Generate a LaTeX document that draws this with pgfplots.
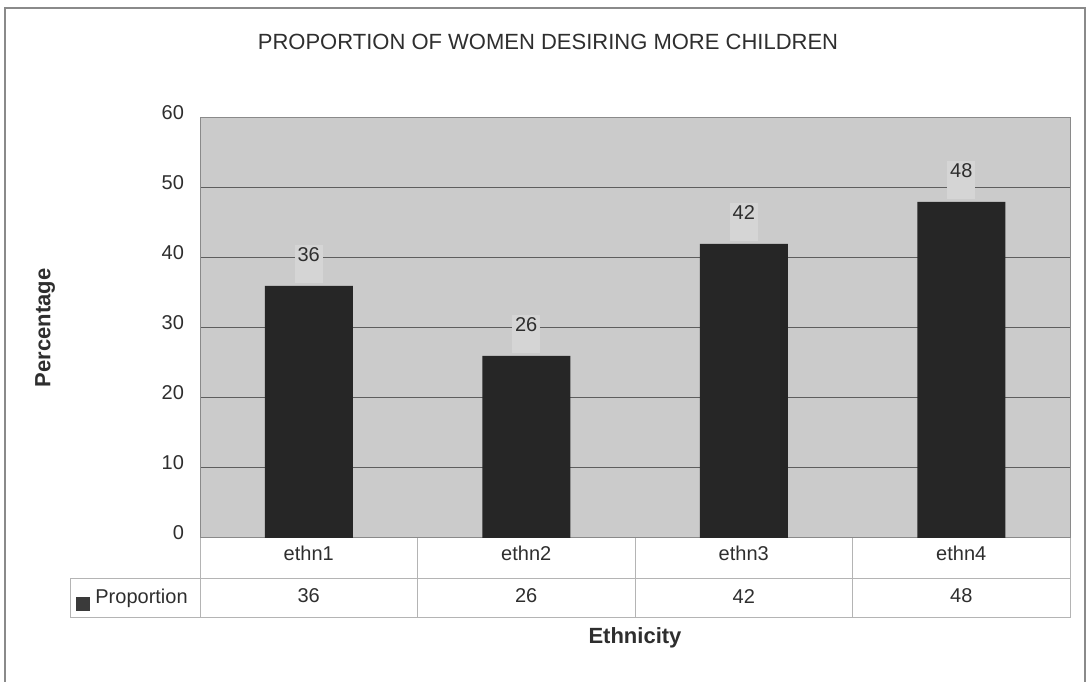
\documentclass[border=0pt]{standalone}
\usepackage{fontspec}
\setmainfont{Liberation Sans}
\usepackage{pgfplots}
\pgfplotsset{compat=1.18}
\definecolor{plotbg}{HTML}{CBCBCB}
\definecolor{barcol}{HTML}{262626}
\definecolor{gridcol}{HTML}{5E5E5E}
\definecolor{txt}{HTML}{2E2E2E}
\definecolor{tableline}{HTML}{B4B4B4}
\definecolor{labelbg}{HTML}{D5D5D5}
\definecolor{framecol}{HTML}{8A8A8A}
\definecolor{keycol}{HTML}{3A3A3A}
\begin{document}
\begin{tikzpicture}
\path (0,0) rectangle (543.5pt,341pt);
\begin{axis}[
  at={(100pt,72pt)}, anchor=south west,
  scale only axis, width=435pt, height=210pt,
  xmin=-0.5, xmax=3.5, ymin=0, ymax=60,
  xtick={0,1,2,3}, xticklabels={ethn1,ethn2,ethn3,ethn4},
  major tick length=0pt,
  ytick={0,10,...,60},
  ymajorgrids, grid style={gridcol, line width=0.5pt},
  axis line style={framecol, line width=0.5pt},
  axis background/.style={fill=plotbg},
  clip=false,
  /pgf/number format/assume math mode=true,
  tick label style={font=\fontsize{10}{12}\selectfont, text=txt},
  yticklabel style={anchor=east, xshift=-4.5pt, yshift=2.5pt},
  xticklabel style={anchor=center, yshift=-7.5pt},
  title={PROPORTION OF WOMEN DESIRING MORE CHILDREN},
  title style={at={(axis description cs:0.4,1.152)}, anchor=center, font=\fontsize{11}{13}\selectfont, text=txt},
  xlabel={Ethnicity},
  xlabel style={at={(axis description cs:0.5,-0.238)}, anchor=center, font=\fontsize{11}{13}\selectfont\bfseries, text=txt},
  ylabel={Percentage},
  ylabel style={at={(axis description cs:-0.178,0.5)}, anchor=center, font=\fontsize{11}{13}\selectfont\bfseries, text=txt},
]
\addplot[ybar, bar width=44pt, fill=barcol, draw=none,
  nodes near coords,
  nodes near coords style={font=\fontsize{10}{12}\selectfont, text=txt, fill=labelbg,
    anchor=south, inner xsep=1.5pt, inner ysep=1.5pt, text height=7pt, text depth=9pt, yshift=1.5pt},
] coordinates {(0,36) (1,26) (2,42) (3,48)};
\addplot[only marks, mark=none, point meta=explicit symbolic,
  nodes near coords, nodes near coords align=center,
  nodes near coords style={font=\fontsize{10}{12}\selectfont, text=txt, anchor=center},
] coordinates {(0,-8.3)[36] (1,-8.3)[26] (2,-8.3)[42] (3,-8.3)[48]};
\end{axis}
\begin{scope}[x=0.5pt, y=-0.5pt, shift={(0,341pt)}]
  % outer frame
  \draw[framecol, line width=1pt] (5,682) -- (5,8) -- (1085,8) -- (1085,682);
  % data table
  \draw[tableline, line width=0.5pt] (200,538) -- (200,618);
  \draw[tableline, line width=0.5pt] (417.5,538) -- (417.5,618);
  \draw[tableline, line width=0.5pt] (635,538) -- (635,618);
  \draw[tableline, line width=0.5pt] (852.5,538) -- (852.5,618);
  \draw[tableline, line width=0.5pt] (1070,538) -- (1070,618);
  \draw[tableline, line width=0.5pt] (70,579) -- (1070,579);
  \draw[tableline, line width=0.5pt] (70,618) -- (1070,618);
  \draw[tableline, line width=0.5pt] (70,579) -- (70,618);
  % legend key
  \fill[keycol] (76,597) rectangle (90,611);
  \node[anchor=west, inner sep=0pt, font=\fontsize{10}{12}\selectfont, text=txt] at (95,598) {Proportion};
\end{scope}
\end{tikzpicture}
\end{document}
